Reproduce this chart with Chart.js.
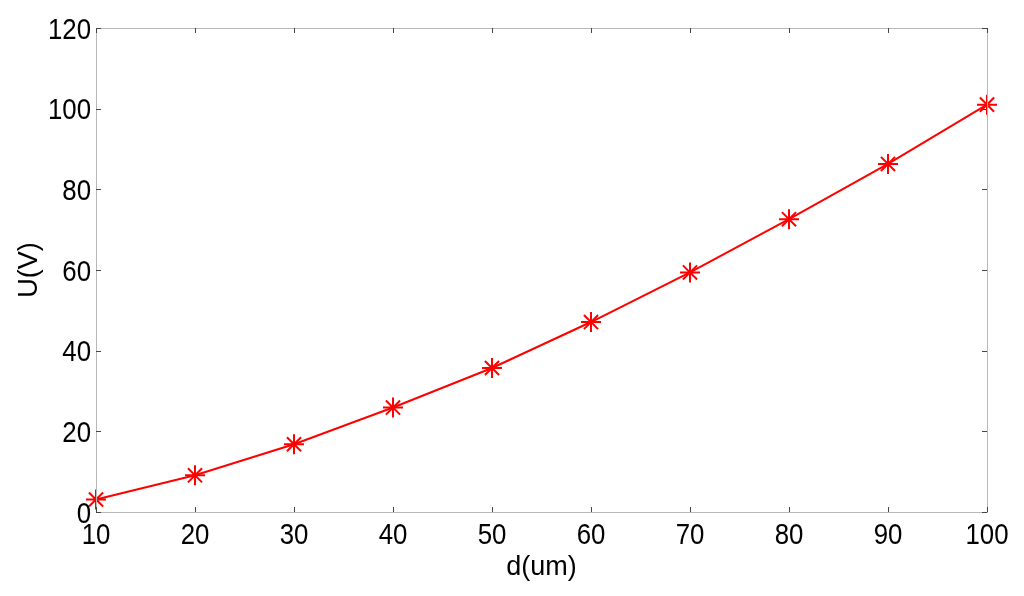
<!DOCTYPE html>
<html>
<head>
<meta charset="utf-8">
<script src="https://cdn.jsdelivr.net/npm/chart.js@4/dist/chart.umd.min.js"></script>
<style>
    html, body { margin: 0; padding: 0; background: #fff; }
    #wrap { width: 1024px; height: 596px; }
</style>
</head>
<body>
<div id="wrap"><canvas id="chart" width="1024" height="596"></canvas></div>
<script>
// d(um) vs U(V)
const distances = [10, 20, 30, 40, 50, 60, 70, 80, 90, 100];
const voltages = [3.1, 9.1, 16.8, 25.9, 35.7, 47.1, 59.4, 72.6, 86.3, 101.0];

const xTicks = [10, 20, 30, 40, 50, 60, 70, 80, 90, 100];
const yTicks = [0, 20, 40, 60, 80, 100, 120];

const FONT = "'Liberation Sans', Arial, sans-serif";

// MATLAB-style box, inward tick marks on all four sides, and the
// slightly condensed tick labels of the exported figure
const boxPlugin = {
    id: 'matlabBox',
    afterDraw(chart) {
        const { ctx, chartArea: a, scales } = chart;
        ctx.save();
        ctx.strokeStyle = '#b8b8b8';
        ctx.lineWidth = 1;
        ctx.strokeRect(a.left + 0.5, a.top + 0.5, a.right - a.left, a.bottom - a.top);

        ctx.strokeStyle = '#444';
        const len = 5;
        ctx.beginPath();
        xTicks.forEach(v => {
            const x = Math.round(scales.x.getPixelForValue(v)) + 0.5;
            ctx.moveTo(x, a.bottom); ctx.lineTo(x, a.bottom - len);
            ctx.moveTo(x, a.top); ctx.lineTo(x, a.top + len);
        });
        yTicks.forEach(v => {
            const y = Math.round(scales.y.getPixelForValue(v)) + 0.5;
            ctx.moveTo(a.left, y); ctx.lineTo(a.left + len, y);
            ctx.moveTo(a.right, y); ctx.lineTo(a.right - len, y);
        });
        ctx.stroke();

        // tick labels
        const size = 30, squeeze = 0.86, capHalf = size * 0.716 / 2;
        ctx.fillStyle = '#000';
        ctx.font = `${size}px ${FONT}`;
        ctx.textBaseline = 'alphabetic';
        ctx.textAlign = 'center';
        xTicks.forEach(v => {
            ctx.save();
            ctx.translate(scales.x.getPixelForValue(v), a.bottom + 21 + capHalf);
            ctx.scale(squeeze, 1);
            ctx.fillText(String(v), 0, 0);
            ctx.restore();
        });
        ctx.textAlign = 'right';
        yTicks.forEach(v => {
            ctx.save();
            ctx.translate(a.left - 5, scales.y.getPixelForValue(v) + capHalf);
            ctx.scale(squeeze, 1);
            ctx.fillText(String(v), 0, 0);
            ctx.restore();
        });
        ctx.restore();
    }
};

new Chart(document.getElementById('chart'), {
    type: 'line',
    data: {
        datasets: [{
            data: distances.map((d, i) => ({ x: d, y: voltages[i] })),
            borderColor: '#ff0000',
            borderWidth: 2,
            tension: 0,
            fill: false,
            pointStyle: 'star',
            pointRadius: 10,
            pointBorderWidth: 2,
            pointBorderColor: '#ff0000',
            pointBackgroundColor: '#ff0000',
            clip: false
        }]
    },
    options: {
        responsive: false,
        animation: false,
        layout: { padding: { top: 28, right: 37, left: 0, bottom: 0 } },
        plugins: { legend: { display: false }, tooltip: { enabled: false } },
        scales: {
            x: {
                type: 'linear',
                min: 10,
                max: 100,
                afterBuildTicks: s => { s.ticks = xTicks.map(v => ({ value: v })); },
                afterFit: s => { s.height = 84; },
                grid: { display: false, drawTicks: false },
                border: { display: false },
                ticks: { display: false },
                title: { display: true, text: 'd(um)', color: '#000', padding: { top: 0, bottom: 12 }, font: { family: FONT, size: 27 } }
            },
            y: {
                min: 0,
                max: 120,
                afterBuildTicks: s => { s.ticks = yTicks.map(v => ({ value: v })); },
                afterFit: s => { s.width = 96; },
                grid: { display: false, drawTicks: false },
                border: { display: false },
                ticks: { display: false },
                title: { display: true, text: 'U(V)', color: '#000', padding: { bottom: 0, top: 13 }, font: { family: FONT, size: 27 } }
            }
        }
    },
    plugins: [boxPlugin]
});
</script>
</body>
</html>
